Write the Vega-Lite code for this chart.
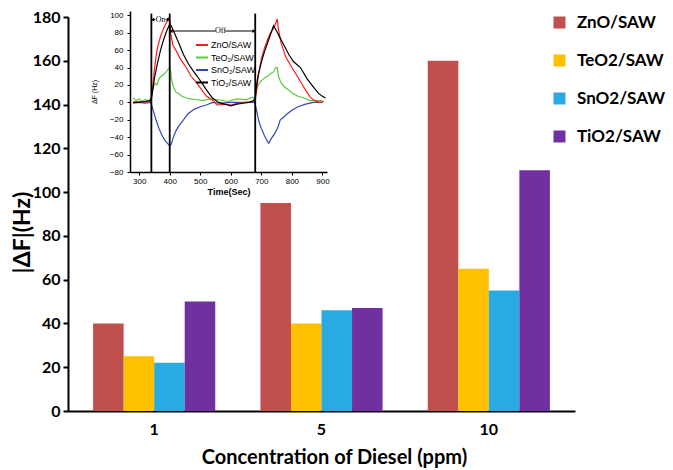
{
"$schema": "https://vega.github.io/schema/vega-lite/v6.json",
"width": 507, "height": 394,
"autosize": {"type": "none"},
"padding": {"left": 68, "top": 17, "right": 98, "bottom": 59},
"background": "white",
"config": {"view": {"stroke": null}, "axis": {"grid": false}},
"datasets": {
"bars": [
{"ppm":"1","material":"ZnO/SAW","df":40},{"ppm":"1","material":"TeO2/SAW","df":25},{"ppm":"1","material":"SnO2/SAW","df":22},{"ppm":"1","material":"TiO2/SAW","df":50},
{"ppm":"5","material":"ZnO/SAW","df":95},{"ppm":"5","material":"TeO2/SAW","df":40},{"ppm":"5","material":"SnO2/SAW","df":46},{"ppm":"5","material":"TiO2/SAW","df":47},
{"ppm":"10","material":"ZnO/SAW","df":160},{"ppm":"10","material":"TeO2/SAW","df":65},{"ppm":"10","material":"SnO2/SAW","df":55},{"ppm":"10","material":"TiO2/SAW","df":110}
],
"series": [
{"s":"TeO₂/SAW","t":280,"v":5},{"s":"TeO₂/SAW","t":290,"v":2},{"s":"TeO₂/SAW","t":300,"v":4},{"s":"TeO₂/SAW","t":310,"v":1},{"s":"TeO₂/SAW","t":320,"v":3},{"s":"TeO₂/SAW","t":330,"v":2},{"s":"TeO₂/SAW","t":338,"v":4},{"s":"TeO₂/SAW","t":342,"v":12},{"s":"TeO₂/SAW","t":347,"v":18},{"s":"TeO₂/SAW","t":352,"v":22},{"s":"TeO₂/SAW","t":358,"v":20},{"s":"TeO₂/SAW","t":365,"v":27},{"s":"TeO₂/SAW","t":372,"v":30},{"s":"TeO₂/SAW","t":380,"v":32},{"s":"TeO₂/SAW","t":388,"v":35},{"s":"TeO₂/SAW","t":395,"v":38},{"s":"TeO₂/SAW","t":400,"v":40},{"s":"TeO₂/SAW","t":403,"v":36},{"s":"TeO₂/SAW","t":407,"v":25},{"s":"TeO₂/SAW","t":412,"v":18},{"s":"TeO₂/SAW","t":420,"v":12},{"s":"TeO₂/SAW","t":430,"v":10},{"s":"TeO₂/SAW","t":440,"v":7},{"s":"TeO₂/SAW","t":455,"v":5},{"s":"TeO₂/SAW","t":470,"v":4},{"s":"TeO₂/SAW","t":490,"v":3},{"s":"TeO₂/SAW","t":510,"v":2},{"s":"TeO₂/SAW","t":530,"v":4},{"s":"TeO₂/SAW","t":560,"v":3},{"s":"TeO₂/SAW","t":590,"v":1},{"s":"TeO₂/SAW","t":620,"v":4},{"s":"TeO₂/SAW","t":650,"v":3},{"s":"TeO₂/SAW","t":670,"v":6},{"s":"TeO₂/SAW","t":678,"v":4},{"s":"TeO₂/SAW","t":683,"v":14},{"s":"TeO₂/SAW","t":690,"v":20},{"s":"TeO₂/SAW","t":700,"v":25},{"s":"TeO₂/SAW","t":710,"v":28},{"s":"TeO₂/SAW","t":720,"v":30},{"s":"TeO₂/SAW","t":730,"v":33},{"s":"TeO₂/SAW","t":740,"v":35},{"s":"TeO₂/SAW","t":747,"v":40},{"s":"TeO₂/SAW","t":752,"v":40},{"s":"TeO₂/SAW","t":756,"v":30},{"s":"TeO₂/SAW","t":765,"v":22},{"s":"TeO₂/SAW","t":775,"v":18},{"s":"TeO₂/SAW","t":790,"v":14},{"s":"TeO₂/SAW","t":805,"v":10},{"s":"TeO₂/SAW","t":820,"v":7},{"s":"TeO₂/SAW","t":840,"v":5},{"s":"TeO₂/SAW","t":860,"v":2},{"s":"TeO₂/SAW","t":880,"v":2},{"s":"TeO₂/SAW","t":900,"v":2},
{"s":"SnO₂/SAW","t":280,"v":-1},{"s":"SnO₂/SAW","t":300,"v":0},{"s":"SnO₂/SAW","t":320,"v":-1},{"s":"SnO₂/SAW","t":338,"v":0},{"s":"SnO₂/SAW","t":345,"v":-8},{"s":"SnO₂/SAW","t":355,"v":-20},{"s":"SnO₂/SAW","t":365,"v":-30},{"s":"SnO₂/SAW","t":375,"v":-38},{"s":"SnO₂/SAW","t":385,"v":-44},{"s":"SnO₂/SAW","t":395,"v":-48},{"s":"SnO₂/SAW","t":400,"v":-50},{"s":"SnO₂/SAW","t":405,"v":-48},{"s":"SnO₂/SAW","t":412,"v":-40},{"s":"SnO₂/SAW","t":420,"v":-33},{"s":"SnO₂/SAW","t":430,"v":-27},{"s":"SnO₂/SAW","t":445,"v":-20},{"s":"SnO₂/SAW","t":460,"v":-13},{"s":"SnO₂/SAW","t":480,"v":-8},{"s":"SnO₂/SAW","t":500,"v":-5},{"s":"SnO₂/SAW","t":520,"v":-3},{"s":"SnO₂/SAW","t":540,"v":0},{"s":"SnO₂/SAW","t":560,"v":-1},{"s":"SnO₂/SAW","t":600,"v":0},{"s":"SnO₂/SAW","t":640,"v":0},{"s":"SnO₂/SAW","t":678,"v":0},{"s":"SnO₂/SAW","t":685,"v":-10},{"s":"SnO₂/SAW","t":692,"v":-22},{"s":"SnO₂/SAW","t":700,"v":-30},{"s":"SnO₂/SAW","t":710,"v":-38},{"s":"SnO₂/SAW","t":720,"v":-45},{"s":"SnO₂/SAW","t":724,"v":-47},{"s":"SnO₂/SAW","t":732,"v":-42},{"s":"SnO₂/SAW","t":745,"v":-35},{"s":"SnO₂/SAW","t":755,"v":-28},{"s":"SnO₂/SAW","t":762,"v":-20},{"s":"SnO₂/SAW","t":770,"v":-18},{"s":"SnO₂/SAW","t":785,"v":-13},{"s":"SnO₂/SAW","t":800,"v":-9},{"s":"SnO₂/SAW","t":820,"v":-5},{"s":"SnO₂/SAW","t":845,"v":-2},{"s":"SnO₂/SAW","t":870,"v":0},{"s":"SnO₂/SAW","t":900,"v":0},
{"s":"ZnO/SAW","t":280,"v":0},{"s":"ZnO/SAW","t":300,"v":1},{"s":"ZnO/SAW","t":320,"v":0},{"s":"ZnO/SAW","t":335,"v":1},{"s":"ZnO/SAW","t":340,"v":3},{"s":"ZnO/SAW","t":345,"v":20},{"s":"ZnO/SAW","t":350,"v":38},{"s":"ZnO/SAW","t":355,"v":52},{"s":"ZnO/SAW","t":360,"v":63},{"s":"ZnO/SAW","t":370,"v":76},{"s":"ZnO/SAW","t":380,"v":85},{"s":"ZnO/SAW","t":390,"v":92},{"s":"ZnO/SAW","t":397,"v":97},{"s":"ZnO/SAW","t":400,"v":95},{"s":"ZnO/SAW","t":403,"v":80},{"s":"ZnO/SAW","t":410,"v":66},{"s":"ZnO/SAW","t":420,"v":60},{"s":"ZnO/SAW","t":435,"v":50},{"s":"ZnO/SAW","t":456,"v":39},{"s":"ZnO/SAW","t":470,"v":30},{"s":"ZnO/SAW","t":489,"v":22},{"s":"ZnO/SAW","t":505,"v":14},{"s":"ZnO/SAW","t":521,"v":7},{"s":"ZnO/SAW","t":543,"v":2},{"s":"ZnO/SAW","t":555,"v":-3},{"s":"ZnO/SAW","t":580,"v":-2},{"s":"ZnO/SAW","t":600,"v":-3},{"s":"ZnO/SAW","t":620,"v":-1},{"s":"ZnO/SAW","t":650,"v":0},{"s":"ZnO/SAW","t":675,"v":1},{"s":"ZnO/SAW","t":680,"v":2},{"s":"ZnO/SAW","t":685,"v":15},{"s":"ZnO/SAW","t":690,"v":30},{"s":"ZnO/SAW","t":700,"v":50},{"s":"ZnO/SAW","t":710,"v":62},{"s":"ZnO/SAW","t":720,"v":72},{"s":"ZnO/SAW","t":730,"v":80},{"s":"ZnO/SAW","t":740,"v":85},{"s":"ZnO/SAW","t":748,"v":92},{"s":"ZnO/SAW","t":752,"v":96},{"s":"ZnO/SAW","t":756,"v":84},{"s":"ZnO/SAW","t":765,"v":68},{"s":"ZnO/SAW","t":780,"v":52},{"s":"ZnO/SAW","t":800,"v":40},{"s":"ZnO/SAW","t":828,"v":24},{"s":"ZnO/SAW","t":845,"v":14},{"s":"ZnO/SAW","t":860,"v":6},{"s":"ZnO/SAW","t":875,"v":2},{"s":"ZnO/SAW","t":890,"v":0},{"s":"ZnO/SAW","t":905,"v":1},
{"s":"TiO₂/SAW","t":280,"v":0},{"s":"TiO₂/SAW","t":300,"v":0},{"s":"TiO₂/SAW","t":320,"v":1},{"s":"TiO₂/SAW","t":335,"v":2},{"s":"TiO₂/SAW","t":340,"v":5},{"s":"TiO₂/SAW","t":345,"v":15},{"s":"TiO₂/SAW","t":350,"v":28},{"s":"TiO₂/SAW","t":360,"v":45},{"s":"TiO₂/SAW","t":370,"v":60},{"s":"TiO₂/SAW","t":380,"v":72},{"s":"TiO₂/SAW","t":390,"v":82},{"s":"TiO₂/SAW","t":400,"v":90},{"s":"TiO₂/SAW","t":405,"v":88},{"s":"TiO₂/SAW","t":415,"v":80},{"s":"TiO₂/SAW","t":430,"v":68},{"s":"TiO₂/SAW","t":445,"v":55},{"s":"TiO₂/SAW","t":460,"v":45},{"s":"TiO₂/SAW","t":475,"v":37},{"s":"TiO₂/SAW","t":490,"v":30},{"s":"TiO₂/SAW","t":500,"v":25},{"s":"TiO₂/SAW","t":521,"v":14},{"s":"TiO₂/SAW","t":540,"v":5},{"s":"TiO₂/SAW","t":560,"v":0},{"s":"TiO₂/SAW","t":580,"v":-2},{"s":"TiO₂/SAW","t":600,"v":-4},{"s":"TiO₂/SAW","t":620,"v":-2},{"s":"TiO₂/SAW","t":640,"v":-1},{"s":"TiO₂/SAW","t":660,"v":0},{"s":"TiO₂/SAW","t":675,"v":2},{"s":"TiO₂/SAW","t":680,"v":5},{"s":"TiO₂/SAW","t":685,"v":22},{"s":"TiO₂/SAW","t":690,"v":32},{"s":"TiO₂/SAW","t":700,"v":46},{"s":"TiO₂/SAW","t":710,"v":58},{"s":"TiO₂/SAW","t":720,"v":68},{"s":"TiO₂/SAW","t":730,"v":78},{"s":"TiO₂/SAW","t":740,"v":88},{"s":"TiO₂/SAW","t":750,"v":82},{"s":"TiO₂/SAW","t":760,"v":75},{"s":"TiO₂/SAW","t":775,"v":65},{"s":"TiO₂/SAW","t":790,"v":55},{"s":"TiO₂/SAW","t":805,"v":47},{"s":"TiO₂/SAW","t":828,"v":40},{"s":"TiO₂/SAW","t":850,"v":27},{"s":"TiO₂/SAW","t":872,"v":17},{"s":"TiO₂/SAW","t":888,"v":10},{"s":"TiO₂/SAW","t":900,"v":7},{"s":"TiO₂/SAW","t":910,"v":5}
],
"vlines": [{"t":340,"lo":-80,"hi":102},{"t":400,"lo":-80,"hi":102},{"t":680,"lo":-80,"hi":102}],
"hsegs": [{"a":343,"b":353,"v":95},{"a":387,"b":397,"v":95},{"a":403,"b":550,"v":82},{"a":582,"b":677,"v":82}],
"lheads": [{"t":344,"v":95},{"t":404,"v":82}],
"rheads": [{"t":396,"v":95},{"t":676,"v":82}],
"labels": [{"t":370,"v":95,"txt":"On"},{"t":566,"v":82,"txt":"Off"}]
},
"layer": [
{
"data": {"name": "bars"},
"mark": {"type": "bar"},
"encoding": {
"x": {"field": "ppm", "type": "nominal", "scale": {"domain": ["1","5","10"], "paddingInner": 0.27, "paddingOuter": 0.15},
"axis": {"orient": "bottom", "title": "Concentration of Diesel (ppm)", "labelAngle": 0, "labelFont": "Lato", "labelFontWeight": "bold", "labelFontSize": 16, "labelColor": "black", "ticks": false, "labelPadding": 10, "domainColor": "black", "domainWidth": 2, "titleFont": "Lato", "titleFontSize": 20, "titleFontWeight": "bold", "titleColor": "black", "titleX": 266, "titleY": 46, "titleBaseline": "middle", "titleAlign": "center"}},
"xOffset": {"field": "material", "type": "nominal", "scale": {"domain": ["ZnO/SAW","TeO2/SAW","SnO2/SAW","TiO2/SAW"], "paddingInner": 0, "paddingOuter": 0}},
"y": {"field": "df", "type": "quantitative", "scale": {"domain": [0,180], "nice": false},
"axis": {"orient": "left", "values": [0,20,40,60,80,100,120,140,160,180], "title": "|ΔF|(Hz)", "labelFont": "Lato", "labelFontWeight": "bold", "labelFontSize": 16, "labelColor": "black", "tickSize": 5, "tickColor": "black", "tickWidth": 2, "domainColor": "black", "domainWidth": 2, "labelPadding": 3, "titleFont": "Lato", "titleFontSize": 23, "titleFontWeight": "bold", "titleColor": "black", "titleX": -46, "titleY": 215, "titleAngle": 270, "titleBaseline": "middle", "titleAlign": "center"}},
"fill": {"field": "material", "type": "nominal", "scale": {"domain": ["ZnO/SAW","TeO2/SAW","SnO2/SAW","TiO2/SAW"], "range": ["#C0504D","#FFC000","#29ABE2","#7030A0"]},
"legend": {"orient": "none", "legendX": 483, "legendY": -3, "title": null, "symbolType": "square", "symbolSize": 144, "symbolStrokeWidth": 0, "symbolOpacity": 1, "labelFont": "Lato", "labelFontWeight": "bold", "labelFontSize": 17, "labelColor": "black", "rowPadding": 20, "labelOffset": 9, "labelLimit": 200}}
}
},
{
"layer": [
{
"data": {"name": "series"},
"mark": {"type": "line", "strokeWidth": 1.2},
"encoding": {
"x": {"field": "t", "type": "quantitative", "scale": {"domain": [270, 915], "range": [62, 259], "nice": false, "zero": false},
"axis": {"orient": "bottom", "offset": -239, "values": [300,400,500,600,700,800,900], "title": "Time(Sec)", "titleFont": "Liberation Sans", "titleFontSize": 9, "titleFontWeight": "bold", "titleColor": "black", "titlePadding": 2, "labelFont": "Liberation Sans", "labelFontSize": 8, "labelColor": "black", "tickSize": 3, "tickColor": "black", "domainColor": "black", "domainWidth": 1.5, "labelPadding": 2}},
"y": {"field": "v", "type": "quantitative", "scale": {"domain": [-80, 105], "range": [155, -6], "nice": false, "zero": false},
"axis": {"orient": "left", "offset": -62, "values": [-80,-60,-40,-20,0,20,40,60,80,100], "title": "ΔF (Hz)", "titleFont": "Liberation Sans", "titleFontSize": 7, "titleFontWeight": "normal", "titleColor": "black", "titlePadding": 12, "labelFont": "Liberation Sans", "labelFontSize": 8, "labelColor": "black", "tickSize": 3, "tickColor": "black", "domainColor": "black", "domainWidth": 1.5, "labelPadding": 4}},
"stroke": {"field": "s", "type": "nominal", "scale": {"domain": ["ZnO/SAW","TeO₂/SAW","SnO₂/SAW","TiO₂/SAW"], "range": ["#FF1A1A","#5CC83C","#3248B4","#000000"]},
"legend": {"orient": "none", "legendX": 127, "legendY": 21, "title": null, "symbolType": "stroke", "symbolSize": 144, "symbolStrokeWidth": 2, "labelFont": "Liberation Sans", "labelFontSize": 9, "labelColor": "black", "rowPadding": 0.5, "labelOffset": 2}}
}
},
{
"data": {"name": "vlines"},
"mark": {"type": "rule", "color": "black", "strokeWidth": 1.8},
"encoding": {"x": {"field": "t", "type": "quantitative"}, "y": {"field": "lo", "type": "quantitative"}, "y2": {"field": "hi"}}
},
{
"data": {"name": "hsegs"},
"mark": {"type": "rule", "color": "black", "strokeWidth": 1},
"encoding": {"x": {"field": "a", "type": "quantitative"}, "x2": {"field": "b"}, "y": {"field": "v", "type": "quantitative"}}
},
{
"data": {"name": "lheads"},
"mark": {"type": "point", "shape": "triangle-left", "filled": true, "color": "black", "size": 14, "opacity": 1},
"encoding": {"x": {"field": "t", "type": "quantitative"}, "y": {"field": "v", "type": "quantitative"}}
},
{
"data": {"name": "rheads"},
"mark": {"type": "point", "shape": "triangle-right", "filled": true, "color": "black", "size": 14, "opacity": 1},
"encoding": {"x": {"field": "t", "type": "quantitative"}, "y": {"field": "v", "type": "quantitative"}}
},
{
"data": {"name": "labels"},
"mark": {"type": "text", "font": "Liberation Serif", "fontSize": 8, "color": "black", "baseline": "middle", "align": "center"},
"encoding": {"x": {"field": "t", "type": "quantitative"}, "y": {"field": "v", "type": "quantitative"}, "text": {"field": "txt"}}
}
]
}
],
"resolve": {"scale": {"x": "independent", "y": "independent"}, "axis": {"x": "independent", "y": "independent"}}
}
